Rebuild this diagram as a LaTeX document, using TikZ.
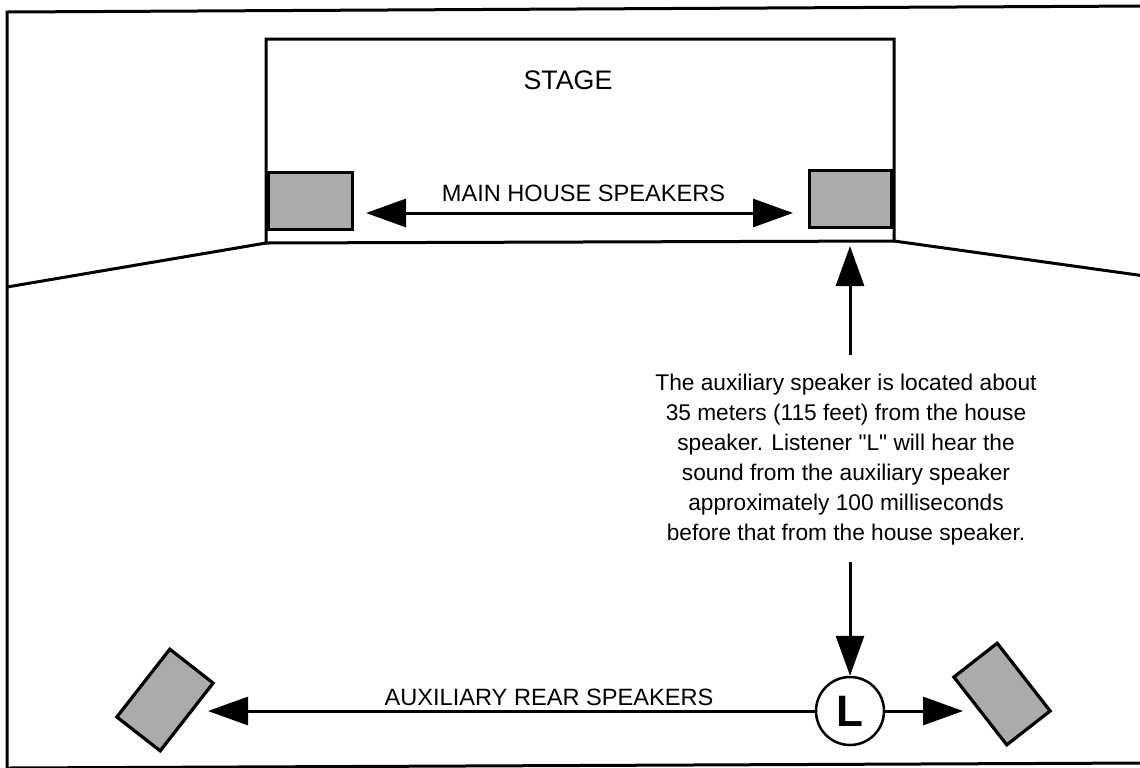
\documentclass[tikz,border=0pt]{standalone}
\usepackage{fontspec}
\setmainfont{Liberation Sans}[Ligatures=TeXOff]
\usetikzlibrary{arrows.meta}
\begin{document}
\begin{tikzpicture}[x=0.5pt,y=0.5pt,
  frameline/.style={line width=1.5pt, line join=miter},
  spk/.style={draw, line width=1.6pt, fill=black!33, inner sep=0pt},
  arr/.style={line width=1.5pt, -{Triangle[length=20pt,width=14pt]}},
  lbl/.style={font=\fontsize{11.8}{14}\selectfont, inner sep=0pt, anchor=base},
]
\useasboundingbox (0,0) rectangle (1140,-767);
\clip (0,0) rectangle (1140,-767);
% outer frame
\draw[frameline] (1145,-6) -- (7,-12) -- (7,-775);
\draw[frameline] (7,-768) -- (1145,-763);
% stage
\coordinate (sbl) at (266,-243);
\coordinate (sbr) at (894,-241);
\draw[frameline] (sbl) -- (266,-39) -- (894,-39) -- (sbr) -- cycle;
\draw[frameline] (sbl) -- (7,-287);
\draw[frameline] (sbr) -- (1145,-276);
\node[font=\fontsize{13.4}{16}\selectfont, inner sep=0pt, anchor=base] (stage) at (568,-89) {STAGE};
% main speakers
\node[spk, minimum width=42pt, minimum height=28.5pt] (spkL) at (310.5,-201) {};
\node[spk, minimum width=41pt, minimum height=28.5pt] (spkR) at (850.5,-199) {};
\coordinate (ma1) at (366,-213);
\coordinate (ma2) at (793,-213);
\draw[line width=1.5pt, {Triangle[length=20pt,width=14pt]}-{Triangle[length=20pt,width=14pt]}] (ma1) -- (ma2);
\node[lbl] (mhs) at (583.5,-201) {MAIN HOUSE SPEAKERS};
% note
\node[font=\fontsize{11.35}{15}\selectfont, align=center, inner sep=0pt] (note) at (846,-459.6)
 {The auxiliary speaker is located about\\
  35 meters (115 feet) from the house\\
  speaker. Listener "L" will hear the\\
  sound from the auxiliary speaker\\
  approximately 100 milliseconds\\
  before that from the house speaker.};
\coordinate (hs) at (850,-246);
\draw[arr] (850,-355) -- (hs);
% listener
\node[draw, circle, line width=1.25pt, minimum size=34pt, inner sep=0pt,
      font=\fontsize{22}{24}\selectfont\bfseries] (L) at (850,-711) {L};
\draw[arr] (850,-562) -- (L.north);
% rear speakers
\node[spk, minimum width=27.5pt, minimum height=43pt, rotate=-38] (rspL) at (165,-700) {};
\node[spk, minimum width=27.5pt, minimum height=43pt, rotate=38] (rspR) at (1002,-694) {};
\coordinate (ra1) at (208,-711);
\coordinate (ra2) at (963,-711);
\draw[arr] (L.west) -- (ra1);
\draw[arr] (L.east) -- (ra2);
\node[lbl] (ars) at (549,-705) {AUXILIARY REAR SPEAKERS};
\end{tikzpicture}
\end{document}
